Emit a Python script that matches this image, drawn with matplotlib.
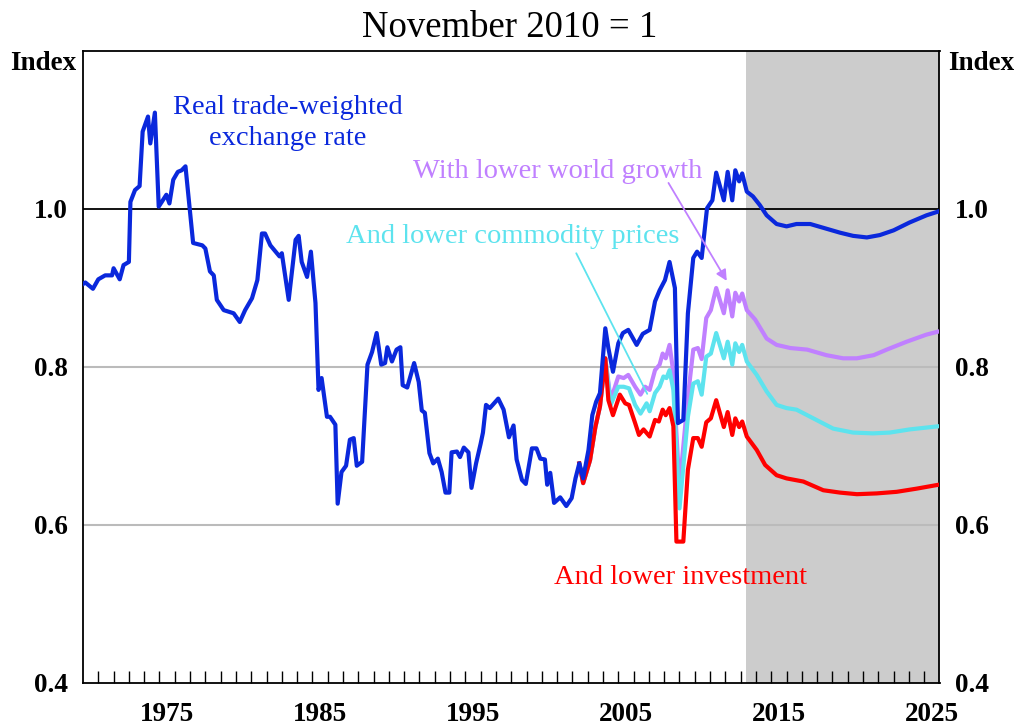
import matplotlib
matplotlib.use("Agg")
import matplotlib.pyplot as plt
import numpy as np

# ---------------- data ----------------
blue_years = [1970.0, 1970.15, 1970.65, 1971.0, 1971.45, 1971.9, 1972.0, 1972.4, 1972.65, 1973.0,
              1973.1, 1973.4, 1973.7, 1973.9, 1974.25, 1974.4, 1974.7, 1974.95, 1975.45, 1975.65,
              1975.9, 1976.2, 1976.45, 1976.7, 1977.2, 1977.8, 1978.0, 1978.3, 1978.55, 1978.75,
              1979.2, 1979.85, 1980.25, 1980.6, 1981.05, 1981.4, 1981.7, 1981.9, 1982.25, 1982.85,
              1983.0, 1983.45, 1983.9, 1984.1, 1984.3, 1984.65, 1984.9, 1985.2, 1985.4, 1985.6,
              1985.95, 1986.15, 1986.5, 1986.65, 1986.9, 1987.2, 1987.45, 1987.7, 1987.9, 1988.25,
              1988.6, 1988.9, 1989.2, 1989.5, 1989.75, 1989.9, 1990.2, 1990.5, 1990.75, 1990.9,
              1991.2, 1991.65, 1991.95, 1992.15, 1992.35, 1992.65, 1992.9, 1993.2, 1993.45, 1993.7,
              1993.95, 1994.1, 1994.45, 1994.65, 1994.9, 1995.2, 1995.4, 1995.7, 1996.0, 1996.15,
              1996.35, 1996.6, 1997.15, 1997.5, 1997.85, 1998.15, 1998.35, 1998.7, 1998.95, 1999.35,
              1999.65, 1999.9, 2000.2, 2000.35, 2000.55, 2000.8, 2001.2, 2001.6, 2001.95, 2002.2,
              2002.45, 2002.7, 2003.05, 2003.3, 2003.55, 2003.8, 2004.15, 2004.35, 2004.65, 2005.0,
              2005.3, 2005.65, 2006.2, 2006.6, 2007.05, 2007.4, 2007.7, 2008.05, 2008.35, 2008.7,
              2008.9, 2009.25, 2009.55, 2009.9, 2010.15, 2010.45, 2010.8, 2011.15, 2011.4, 2011.9,
              2012.15, 2012.45, 2012.65, 2012.9, 2013.1, 2013.4,
              2013.8, 2014.25, 2014.7, 2015.35, 2016.0, 2016.65, 2017.55, 2018.6, 2019.5, 2020.35,
              2021.25, 2022.1, 2023.0, 2024.05, 2025.15, 2025.95]
blue_vals = [0.905, 0.907, 0.899, 0.911, 0.916, 0.916, 0.925, 0.911, 0.929, 0.933,
             1.009, 1.024, 1.029, 1.098, 1.117, 1.083, 1.122, 1.003, 1.018, 1.007,
             1.037, 1.047, 1.049, 1.054, 0.957, 0.954, 0.950, 0.921, 0.916, 0.885,
             0.872, 0.868, 0.857, 0.872, 0.887, 0.910, 0.969, 0.969, 0.954, 0.940,
             0.944, 0.885, 0.961, 0.966, 0.933, 0.914, 0.946, 0.881, 0.771, 0.786,
             0.737, 0.737, 0.727, 0.627, 0.667, 0.675, 0.708, 0.710, 0.675, 0.680,
             0.803, 0.819, 0.843, 0.803, 0.805, 0.825, 0.807, 0.822, 0.825, 0.777,
             0.774, 0.805, 0.781, 0.745, 0.742, 0.691, 0.678, 0.684, 0.667, 0.641,
             0.641, 0.692, 0.693, 0.686, 0.698, 0.692, 0.647, 0.678, 0.703, 0.717,
             0.752, 0.748, 0.760, 0.746, 0.711, 0.726, 0.683, 0.657, 0.652, 0.697,
             0.697, 0.684, 0.683, 0.651, 0.666, 0.628, 0.635, 0.624, 0.634, 0.659,
             0.678, 0.659, 0.695, 0.739, 0.756, 0.767, 0.849, 0.824, 0.794, 0.830,
             0.843, 0.847, 0.828, 0.842, 0.847, 0.883, 0.897, 0.910, 0.933, 0.900,
             0.729, 0.733, 0.868, 0.938, 0.946, 0.938, 1.001, 1.011, 1.046, 1.011,
             1.047, 1.011, 1.049, 1.035, 1.045, 1.022,
             1.016, 1.005, 0.992, 0.981, 0.978, 0.981, 0.981, 0.975, 0.970, 0.966,
             0.964, 0.967, 0.973, 0.983, 0.992, 0.997]

# shared start of the three scenario lines
common_years = [2002.45, 2002.7, 2003.15, 2003.5, 2003.8, 2004.15]
common_vals = [0.678, 0.653, 0.682, 0.724, 0.750, 0.811]

red_years = [2004.35, 2004.65, 2005.1, 2005.45, 2005.7, 2006.1, 2006.35, 2006.65, 2007.05, 2007.4,
             2007.65, 2007.9, 2008.1, 2008.35, 2008.6, 2008.8, 2009.25, 2009.55, 2009.9, 2010.2,
             2010.45, 2010.75, 2011.05, 2011.4, 2011.9, 2012.15, 2012.45, 2012.65, 2012.9, 2013.1,
             2013.4, 2014.05, 2014.6, 2015.35, 2016.0, 2017.1, 2018.4, 2019.5, 2020.6, 2021.9,
             2023.2, 2024.5, 2025.95]
red_vals = [0.758, 0.739, 0.765, 0.754, 0.752, 0.729, 0.714, 0.721, 0.712, 0.733,
            0.731, 0.746, 0.739, 0.748, 0.725, 0.579, 0.579, 0.670, 0.710, 0.710,
            0.699, 0.730, 0.735, 0.758, 0.724, 0.743, 0.714, 0.735, 0.724, 0.731,
            0.712, 0.695, 0.676, 0.663, 0.659, 0.655, 0.644, 0.641, 0.639, 0.640,
            0.642, 0.646, 0.651]

purple_years = [2004.5, 2005.0, 2005.35, 2005.65, 2006.1, 2006.45, 2006.75, 2007.05, 2007.4, 2007.7,
                2007.9, 2008.1, 2008.35, 2008.55, 2009.0, 2009.55, 2009.9, 2010.2, 2010.45, 2010.75,
                2011.05, 2011.4, 2011.9, 2012.15, 2012.45, 2012.65, 2012.9, 2013.1, 2013.4, 2013.95,
                2014.7, 2015.35, 2016.25, 2017.35, 2018.6, 2019.7, 2020.6, 2021.7, 2022.55, 2023.85,
                2025.15, 2025.95]
purple_vals = [0.758, 0.788, 0.786, 0.790, 0.775, 0.765, 0.775, 0.771, 0.796, 0.803,
               0.817, 0.811, 0.828, 0.800, 0.648, 0.762, 0.822, 0.824, 0.810, 0.862,
               0.872, 0.900, 0.868, 0.897, 0.864, 0.894, 0.883, 0.893, 0.872, 0.860,
               0.836, 0.828, 0.824, 0.822, 0.815, 0.811, 0.811, 0.815, 0.822, 0.832,
               0.841, 0.845]

cyan_years = [2004.5, 2005.0, 2005.35, 2005.7, 2006.1, 2006.45, 2006.85, 2007.05, 2007.4, 2007.7,
              2007.95, 2008.15, 2008.35, 2008.6, 2009.0, 2009.55, 2009.9, 2010.2, 2010.45, 2010.75,
              2011.05, 2011.4, 2011.9, 2012.15, 2012.45, 2012.65, 2012.9, 2013.1, 2013.4, 2014.05,
              2014.7, 2015.35, 2016.0, 2016.65, 2017.75, 2019.05, 2020.35, 2021.65, 2022.75, 2024.05,
              2025.95]
cyan_vals = [0.752, 0.775, 0.775, 0.773, 0.752, 0.741, 0.754, 0.744, 0.767, 0.775,
             0.788, 0.786, 0.796, 0.771, 0.621, 0.737, 0.779, 0.782, 0.765, 0.813,
             0.817, 0.843, 0.811, 0.832, 0.803, 0.830, 0.819, 0.828, 0.807, 0.790,
             0.769, 0.752, 0.748, 0.746, 0.735, 0.722, 0.717, 0.716, 0.717, 0.721,
             0.725]

forecast_start = 2013.35
year_labels = ["1975", "1985", "1995", "2005", "2015", "2025"]
y_ticks = [0.4, 0.6, 0.8, 1.0]

# ---------------- style ----------------
BLUE = "#0A28DC"
PURPLE = "#C080FF"
CYAN = "#5DE3EE"
RED = "#FF0000"
SERIF = ["Liberation Serif", "DejaVu Serif"]
plt.rcParams["font.family"] = SERIF

fig = plt.figure(figsize=(10.19, 7.26), dpi=100)
ax = fig.add_axes([83 / 1019, 1 - 683 / 726, (939.5 - 83) / 1019, (683 - 51) / 726])

ax.set_xlim(1970, 2026)
ax.set_ylim(0.4, 1.2)

ax.axvspan(forecast_start, 2026, color="#CCCCCC", zorder=0, lw=0)
for g in (0.6, 0.8):
    ax.axhline(g, color="#BBBBBB", lw=1.5, zorder=1)
ax.axhline(1.0, color="black", lw=1.3, zorder=1)

lw = 3.0
ax.plot(common_years + purple_years, common_vals + purple_vals, color=PURPLE, lw=lw, zorder=3)
ax.plot(common_years + cyan_years, common_vals + cyan_vals, color=CYAN, lw=lw, zorder=4)
ax.plot(common_years + red_years, common_vals + red_vals, color=RED, lw=lw, zorder=5)
ax.plot(blue_years, blue_vals, color=BLUE, lw=lw, zorder=6)

# ticks
ax.set_xticks(np.arange(1971, 2026), minor=True)
ax.set_xticks([int(s) + 0.5 for s in year_labels])
ax.set_xticklabels(year_labels)
ax.tick_params(axis="x", which="minor", direction="in", length=9, width=1, color="black")
ax.tick_params(axis="x", which="major", length=0, pad=14)
ax.set_yticks(y_ticks)
ax.set_yticklabels([f"{v:.1f}" for v in y_ticks])
ax.tick_params(axis="y", which="both", length=0, pad=11, labelright=True, right=False)
for lab in ax.get_xticklabels() + ax.get_yticklabels() + ax.yaxis.get_ticklabels(which="major"):
    lab.set_fontsize(19.5)
    lab.set_fontweight("bold")
for lab in ax.yaxis.get_majorticklabels():
    lab.set_fontsize(19.5)
    lab.set_fontweight("bold")
for t in ax.yaxis.get_major_ticks():
    t.label2.set_fontsize(19.5)
    t.label2.set_fontweight("bold")

for sp in ax.spines.values():
    sp.set_linewidth(1.3)
    sp.set_color("black")

# labels
fig.text(10 / 1019, 1 - 70 / 726, "Index", fontsize=19.5, fontweight="bold", ha="left", va="baseline")
fig.text(948 / 1019, 1 - 70 / 726, "Index", fontsize=19.5, fontweight="bold", ha="left", va="baseline")
fig.text(0.5, 1 - 37 / 726, "November 2010 = 1", fontsize=26.5, ha="center", va="baseline")

fs = 20.5
ax.text(1983.39, 1.1198, "Real trade-weighted", color=BLUE, fontsize=fs, ha="center", va="baseline", zorder=7)
ax.text(1983.39, 1.081, "exchange rate", color=BLUE, fontsize=fs, ha="center", va="baseline", zorder=7)
ax.text(1991.59, 1.0396, "With lower world growth", color=PURPLE, fontsize=fs, ha="left", va="baseline", zorder=7)
ax.text(1987.21, 0.957, "And lower commodity prices", color=CYAN, fontsize=fs, ha="left", va="baseline", zorder=7)
ax.text(2000.77, 0.525, "And lower investment", color=RED, fontsize=fs, ha="left", va="baseline", zorder=7)

ax.annotate("", xy=(2012.09, 0.909), xytext=(2008.28, 1.033),
            arrowprops=dict(arrowstyle="-|>", color=PURPLE, lw=1.3, mutation_scale=16,
                            shrinkA=0, shrinkB=0), zorder=7)
ax.annotate("", xy=(2006.89, 0.766), xytext=(2002.25, 0.944),
            arrowprops=dict(arrowstyle="-", color=CYAN, lw=1.3, shrinkA=0, shrinkB=0), zorder=7)

fig.savefig("out.png", dpi=100)
